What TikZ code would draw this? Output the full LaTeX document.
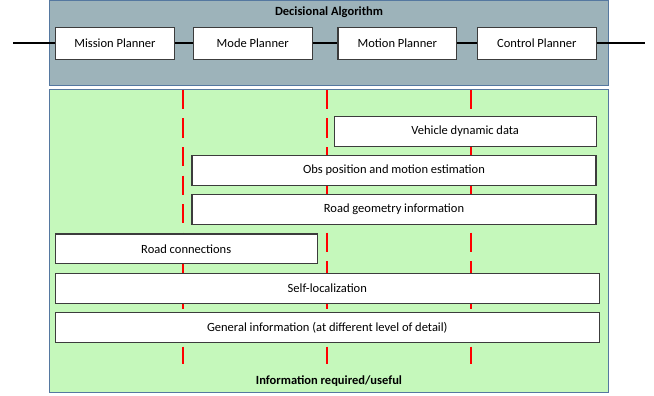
\documentclass[tikz,border=0pt]{standalone}
\usepackage{fontspec}
\setmainfont{Carlito}
\definecolor{greyfill}{HTML}{9DB3BA}
\definecolor{greenfill}{HTML}{C5F8BB}
\definecolor{frameblue}{HTML}{5578A0}
\definecolor{boxline}{HTML}{3C3C3C}
\tikzset{
  panel/.style={draw=frameblue, line width=1pt},
  box/.style={draw=boxline, fill=white, line width=1.1pt, inner sep=0pt, font=\fontsize{12.5}{15}\selectfont},
  planner/.style={box, minimum width=118.7pt, minimum height=32.7pt},
  infobox/.style={box, minimum height=29.7pt},
  link/.style={draw=black, line width=2pt},
  reddash/.style={draw=red, line width=2pt, dash pattern=on 19pt off 9.5pt},
  title/.style={font=\fontsize{12.5}{15}\selectfont\bfseries, inner sep=0pt}
}
\begin{document}
\begin{tikzpicture}[x=1pt,y=-1pt]
\useasboundingbox (0,0) rectangle (654,396);
% panels
\path[panel, fill=greyfill] (49.5,1) rectangle (608,86);
\path[panel, fill=greenfill] (49.5,90) rectangle (608,392);
\node[title] (dtitle) at (329,12.5) {Decisional Algorithm};
\node[title] (ititle) at (329,381) {Information required/useful};
% planners
\coordinate (lin) at (13,43.5);
\coordinate (rout) at (645,43.5);
\node[planner] (mission) at (115,43.5) {Mission Planner};
\node[planner] (mode) at (252.7,43.5) {Mode Planner};
\node[planner] (motion) at (397.3,43.5) {Motion Planner};
\node[planner] (control) at (536.8,43.5) {Control Planner};
\draw[link] (lin) -- (mission.west);
\draw[link] (mission.east) -- (mode.west);
\draw[link] (mode.east) -- (motion.west);
\draw[link] (motion.east) -- (control.west);
\draw[link] (control.east) -- (rout);
% red dashed separators
\coordinate (r1t) at (183,90);   \coordinate (r1b) at (183,364);
\coordinate (r2t) at (327,90);   \coordinate (r2b) at (327,364);
\coordinate (r3t) at (471,90);   \coordinate (r3b) at (471,364);
\draw[reddash] (r1t) -- (r1b);
\draw[reddash] (r2t) -- (r2b);
\draw[reddash] (r3t) -- (r3b);
% information boxes
\node[infobox, minimum width=261.7pt] (veh) at (465.2,131.2) {Vehicle dynamic data};
\node[infobox, minimum width=404pt] (obs) at (394,170.3) {Obs position and motion estimation};
\node[infobox, minimum width=404pt] (geo) at (394,209.7) {Road geometry information};
\node[infobox, minimum width=261.7pt] (conn) at (186.2,248.8) {Road connections};
\node[infobox, minimum width=544pt] (self) at (327.3,288.3) {Self-localization};
\node[infobox, minimum width=544pt] (gen) at (327.3,327.3) {General information (at different level of detail)};
\end{tikzpicture}
\end{document}
